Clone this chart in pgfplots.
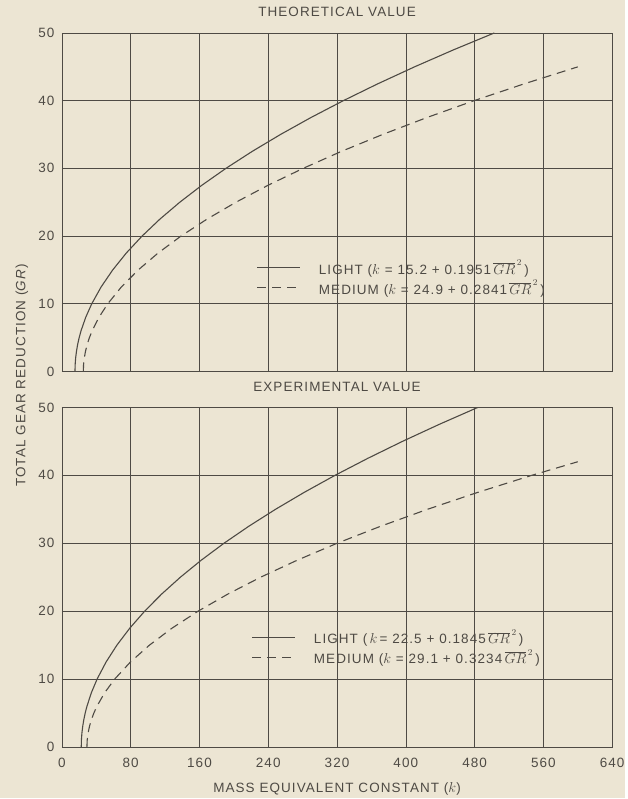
\documentclass[border=0pt]{standalone}
\usepackage{fontspec}
\setmainfont{Liberation Sans}[LetterSpace=8]
\usepackage{pgfplots}
\pgfplotsset{compat=1.18}
\definecolor{bg}{RGB}{236,229,211}
\definecolor{ink}{RGB}{78,74,68}

\pgfplotsset{
  myax/.style={
    scale only axis, width=551pt, height=340pt,
    xmin=0, xmax=640, ymin=0, ymax=50,
    xtick={0,80,...,640}, ytick={0,10,...,50},
    grid=major, major grid style={ink, line width=0.6pt},
    axis line style={ink, line width=0.8pt},
    major tick length=0pt,
    tick label style={font=\fontsize{13.5}{15}\selectfont, text=ink},
    /pgf/number format/assume math mode=true,
    yticklabel style={xshift=-4pt},
    xticklabel style={yshift=-8pt},
    legend style={draw=none, fill=none, inner sep=0pt,
      font=\fontsize{13.5}{15}\selectfont, text=ink,
      row sep=0pt, column sep=16pt, cells={anchor=west}},
    legend image code/.code={\draw[##1] (0pt,0pt) -- (43pt,0pt);},
    title style={font=\fontsize{13.5}{15}\selectfont, text=ink, anchor=base, at={(0.5,1)}, yshift=10pt},
  },
  lightc/.style={ink, line width=1.1pt},
  medc/.style={ink, line width=1.1pt, dash pattern=on 9pt off 6pt},
}

\begin{document}
\begin{tikzpicture}
\fill[bg] (-62pt,-51pt) rectangle (564pt,748pt);

% ---------------- bottom: experimental ----------------
\begin{axis}[myax, at={(0pt,0pt)}, anchor=south west,
  title={EXPERIMENTAL VALUE},
  xlabel={MASS EQUIVALENT CONSTANT ($k$)},
  xlabel style={font=\fontsize{13.5}{15}\selectfont, text=ink, at={(0.5,0)}, anchor=base, yshift=-46pt},
  legend style={at={(0.345,0.293)}, anchor=west},
]
\addplot[lightc] coordinates {
(22.5,0) (22.68,1) (23.24,2) (24.16,3) (25.45,4) (27.11,5) (29.14,6) (34.31,8)
(40.95,10) (51.33,12.5) (64.01,15) (79.00,17.5) (96.30,20) (115.90,22.5)
(137.81,25) (162.03,27.5) (188.55,30) (217.38,32.5) (248.51,35) (281.95,37.5)
(317.70,40) (355.75,42.5) (396.11,45) (438.78,47.5) (483.75,50)
};
\addlegendentry{LIGHT (\,$k$\,= 22.5 + 0.1845\,$\overline{GR}^{\,2}$\,)}
\addplot[medc] coordinates {
(29.1,0) (29.42,1) (30.39,2) (32.01,3) (34.27,4) (37.19,5) (40.74,6) (49.80,8)
(61.44,10) (79.63,12.5) (101.87,15) (128.14,17.5) (158.46,20) (192.82,22.5)
(231.23,25) (273.67,27.5) (320.16,30) (370.69,32.5) (425.27,35) (483.88,37.5)
(546.54,40) (600,42.0)
};
\addlegendentry{MEDIUM ($k$ = 29.1 + 0.3234\,$\overline{GR}^{\,2}$\,)}
\end{axis}

% ---------------- top: theoretical ----------------
\begin{axis}[myax, at={(0pt,376pt)}, anchor=south west, height=339pt,
  title={THEORETICAL VALUE},
  xticklabels={},
  legend style={at={(0.354,0.277)}, anchor=west},
]
\addplot[lightc] coordinates {
(15.2,0) (15.40,1) (15.98,2) (16.96,3) (18.32,4) (20.08,5) (22.22,6) (27.69,8)
(34.71,10) (45.68,12.5) (59.10,15) (74.95,17.5) (93.24,20) (113.97,22.5)
(137.14,25) (162.74,27.5) (190.79,30) (221.27,32.5) (254.20,35) (289.56,37.5)
(327.36,40) (367.60,42.5) (410.28,45) (455.39,47.5) (502.95,50)
};
\addlegendentry{LIGHT ($k$ = 15.2 + 0.1951\,$\overline{GR}^{\,2}$\,)}
\addplot[medc] coordinates {
(24.9,0) (25.18,1) (26.04,2) (27.46,3) (29.45,4) (32.00,5) (35.13,6) (43.08,8)
(53.31,10) (69.29,12.5) (88.82,15) (111.91,17.5) (138.54,20) (168.73,22.5)
(202.46,25) (239.75,27.5) (280.59,30) (324.98,32.5) (372.92,35) (424.42,37.5)
(479.46,40) (538.06,42.5) (600,44.99)
};
\addlegendentry{MEDIUM ($k$ = 24.9 + 0.2841\,$\overline{GR}^{\,2}$\,)}
\end{axis}

\node[rotate=90, text=ink, font=\fontsize{13.5}{15}\selectfont] at (-40pt,372pt) {TOTAL GEAR REDUCTION (\textit{GR})};
\end{tikzpicture}
\end{document}
